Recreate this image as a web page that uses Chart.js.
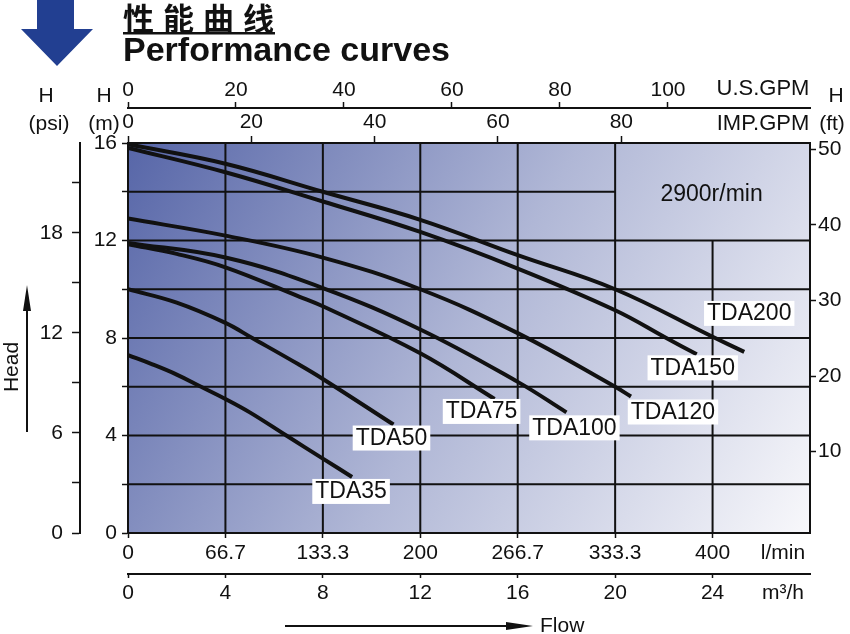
<!DOCTYPE html>
<html>
<head>
<meta charset="utf-8">
<script src="https://cdn.jsdelivr.net/npm/chart.js@4.4.1/dist/chart.umd.min.js"></script>
<style>
  html, body { margin: 0; padding: 0; background: #fff; }
  #wrap { width: 850px; height: 634px; }
</style>
</head>
<body>
<div id="wrap"><canvas id="curves"></canvas></div>
<script>
// pump models, flow in m3/h and head in m
const pumps = ['TDA35', 'TDA50', 'TDA75', 'TDA100', 'TDA120', 'TDA150', 'TDA200'];
const flow35  = [0, 1, 2, 3, 4, 5, 6.5, 8, 9.2];
const head35  = [7.3, 6.92, 6.5, 6.0, 5.5, 4.95, 4.0, 3.05, 2.3];
const flow50  = [0, 2, 4, 5.1, 7, 8, 10.9];
const head50  = [10.0, 9.45, 8.62, 8.0, 6.92, 6.32, 4.45];
const flow75  = [0, 2, 4, 7.05, 8, 12, 15.05];
const head75  = [11.85, 11.45, 10.9, 9.69, 9.3, 7.37, 5.5];
const flow100 = [0, 4, 8, 12, 16, 18];
const head100 = [11.9, 11.3, 10.05, 8.35, 6.2, 4.95];
const flow120 = [0, 4, 8, 12, 16, 20, 20.65];
const head120 = [12.9, 12.2, 11.3, 10.0, 8.2, 6.0, 5.6];
const flow150 = [0, 4, 8, 12, 16, 20, 22.1, 23.35];
const head150 = [15.8, 14.8, 13.6, 12.35, 10.85, 9.14, 8.0, 7.33];
const flow200 = [0, 4, 8, 12, 16, 20, 24, 25.3];
const head200 = [15.95, 15.15, 14.0, 12.85, 11.4, 10.0, 8.05, 7.43];
const flows = [flow35, flow50, flow75, flow100, flow120, flow150, flow200];
const heads = [head35, head50, head75, head100, head120, head150, head200];

// axis ticks
const flowTicks = [0, 4, 8, 12, 16, 20, 24];
const lminTicks = [0, 200 / 3, 400 / 3, 200, 800 / 3, 1000 / 3, 400];
const headTicks = [0, 2, 4, 6, 8, 10, 12, 14, 16];
const psiTicks = [0, 3, 6, 9, 12, 15, 18, 21];
const ftTicks = [10, 20, 30, 40, 50];
const usTicks = [0, 20, 40, 60, 80, 100];
const impTicks = [0, 20, 40, 60, 80];

// grid inside the plot
const gridFlow = [4, 8, 12, 16, 20];
const gridHead = [2, 4, 6, 8, 10, 12];
const gridFlowPart = [[24, 0, 12]];   // flow, from head, to head
const gridHeadPart = [[14, 0, 20]];   // head, from flow, to flow

const speedNote = '2900r/min';

const FONT = '"Liberation Sans", Arial, sans-serif';
Chart.defaults.font.family = FONT;

// where each model's name box sits, from the end of its curve (px)
const labelShift = [[-1, 14], [-2, 13], [-13, 12], [8, 15], [42, 15], [-4, 13], [5, -39]];

function mkAxis(position, min, max, values, label, tickLength, padding, size, weight) {
  const horizontal = position === 'top' || position === 'bottom';
  return {
    type: 'linear', position, min, max, weight,
    afterBuildTicks: s => { s.ticks = values.map(v => ({ value: v })); },
    afterFit: s => { if (horizontal) s.height = size; else s.width = size; },
    grid: { drawOnChartArea: false, drawTicks: true, tickLength, tickColor: '#111', tickWidth: 1.5 },
    border: { display: true, color: '#111', width: 2 },
    ticks: { color: '#111', font: { size: 21 }, padding, autoSkip: false, maxRotation: 0, callback: label }
  };
}

function text(ctx, s, x, y, size, align, weight) {
  ctx.font = (weight || '') + ' ' + size + 'px ' + FONT;
  ctx.textAlign = align || 'center';
  ctx.textBaseline = 'middle';
  ctx.fillText(s, x, y);
}

const sheet = {
  id: 'sheet',
  beforeDraw(chart) {
    const { ctx, chartArea: a } = chart;
    ctx.save();
    ctx.fillStyle = '#fff';
    ctx.fillRect(0, 0, chart.width, chart.height);
    const g = ctx.createLinearGradient(a.left, a.top, a.right, a.bottom);
    g.addColorStop(0, '#5766a8');
    g.addColorStop(0.5, '#b0b7d6');
    g.addColorStop(1, '#f8f8fb');
    ctx.fillStyle = g;
    ctx.fillRect(a.left, a.top, a.width, a.height);
    ctx.restore();
  },
  beforeDatasetsDraw(chart) {
    const { ctx, chartArea: a } = chart;
    const sx = chart.scales.x, sy = chart.scales.y;
    ctx.save();
    ctx.strokeStyle = '#111';
    ctx.lineWidth = 2;
    ctx.beginPath();
    gridFlow.forEach(v => { const px = sx.getPixelForValue(v); ctx.moveTo(px, a.top); ctx.lineTo(px, a.bottom); });
    gridHead.forEach(v => { const py = sy.getPixelForValue(v); ctx.moveTo(a.left, py); ctx.lineTo(a.right, py); });
    gridFlowPart.forEach(([v, h0, h1]) => {
      const px = sx.getPixelForValue(v);
      ctx.moveTo(px, sy.getPixelForValue(h0)); ctx.lineTo(px, sy.getPixelForValue(h1));
    });
    gridHeadPart.forEach(([v, f0, f1]) => {
      const py = sy.getPixelForValue(v);
      ctx.moveTo(sx.getPixelForValue(f0), py); ctx.lineTo(sx.getPixelForValue(f1), py);
    });
    ctx.stroke();
    ctx.fillStyle = '#111';
    text(ctx, speedNote, sx.getPixelForValue(24) - 1, sy.getPixelForValue(14) + 3, 23);
    ctx.restore();
  },
  afterDatasetsDraw(chart) {
    const ctx = chart.ctx;
    ctx.save();
    ctx.font = '23px ' + FONT;
    chart.data.datasets.forEach((ds, i) => {
      const pts = chart.getDatasetMeta(i).data;
      const end = pts[pts.length - 1];
      const cx = end.x + labelShift[i][0], cy = end.y + labelShift[i][1];
      const w = ctx.measureText(ds.label).width + 6;
      ctx.fillStyle = '#fff';
      ctx.fillRect(cx - w / 2, cy - 12, w, 25);
      ctx.fillStyle = '#111';
      text(ctx, ds.label, cx, cy + 1, 23);
    });
    ctx.restore();
  },
  afterDraw(chart) {
    const ctx = chart.ctx;
    ctx.save();
    // blue arrow beside the title
    ctx.fillStyle = '#223f91';
    ctx.beginPath();
    ctx.moveTo(37, 0); ctx.lineTo(74, 0); ctx.lineTo(74, 29); ctx.lineTo(93, 29);
    ctx.lineTo(57, 66); ctx.lineTo(21, 29); ctx.lineTo(37, 29); ctx.closePath();
    ctx.fill();

    ctx.fillStyle = '#111';
    ctx.font = 'bold 31px "Noto Sans CJK SC", sans-serif';
    ctx.textAlign = 'left'; ctx.textBaseline = 'middle';
    ctx.letterSpacing = '9px';
    ctx.fillText('性能曲线', 123, 18);
    ctx.letterSpacing = '0px';
    ctx.fillRect(123, 32, 152, 2.5);
    ctx.font = 'bold 34px ' + FONT;
    ctx.textBaseline = 'alphabetic';
    ctx.fillText('Performance curves', 123, 61);

    // axis headings and units
    text(ctx, 'H', 46, 96, 21);
    text(ctx, '(psi)', 49, 124, 21);
    text(ctx, 'H', 104, 96, 21);
    text(ctx, '(m)', 104, 124, 21);
    text(ctx, 'H', 836, 96, 21);
    text(ctx, '(ft)', 832, 124, 21);
    text(ctx, 'U.S.GPM', 763, 89, 22);
    text(ctx, 'IMP.GPM', 763, 124, 22);
    text(ctx, 'l/min', 783, 553, 21);
    text(ctx, 'm³/h', 783, 593, 21);

    // Head arrow
    ctx.save();
    ctx.translate(12, 367);
    ctx.rotate(-Math.PI / 2);
    text(ctx, 'Head', 0, 0, 21);
    ctx.restore();
    ctx.strokeStyle = '#111'; ctx.lineWidth = 2;
    ctx.beginPath(); ctx.moveTo(27, 432); ctx.lineTo(27, 305); ctx.stroke();
    ctx.beginPath(); ctx.moveTo(27, 285); ctx.lineTo(31, 311); ctx.lineTo(23, 311); ctx.closePath(); ctx.fill();

    // Flow arrow
    ctx.beginPath(); ctx.moveTo(285, 626); ctx.lineTo(510, 626); ctx.stroke();
    ctx.beginPath(); ctx.moveTo(533, 626); ctx.lineTo(506, 622); ctx.lineTo(506, 630); ctx.closePath(); ctx.fill();
    text(ctx, 'Flow', 540, 626, 21, 'left');
    ctx.restore();
  }
};

const round1 = v => String(Math.round(v * 10) / 10);

new Chart(document.getElementById('curves'), {
  type: 'line',
  data: {
    datasets: pumps.map((name, i) => ({
      label: name,
      data: flows[i].map((x, k) => ({ x, y: heads[i][k] })),
      borderColor: '#111',
      borderWidth: 4,
      pointRadius: 0,
      fill: false,
      tension: 0.4,
      xAxisID: 'x',
      yAxisID: 'y'
    }))
  },
  options: {
    responsive: true,
    maintainAspectRatio: false,
    animation: false,
    layout: { padding: { left: 10, right: 4, top: 70, bottom: 0 } },
    plugins: { legend: { display: false }, tooltip: { enabled: false } },
    scales: {
      x: mkAxis('bottom', 0, 28, flowTicks, v => round1(v), 4, 3, 60, 10),
      lmin: mkAxis('bottom', 0, 28 * 1000 / 60, lminTicks, v => round1(v), 5, 3, 41, 0),
      y: mkAxis('left', 0, 16, headTicks, v => (v % 4 === 0 ? String(v) : ''), 6, 5, 48, 0),
      psi: mkAxis('left', 0, 23.38, psiTicks, v => (v % 6 === 0 ? String(v) : ''), 8, 9, 70, 10),
      ft: mkAxis('right', -0.76, 50.83, ftTicks, v => String(v), 6, 2, 36, 0),
      imp: mkAxis('top', 0, 110.6, impTicks, v => String(v), 7, 1, 35, 0),
      us: mkAxis('top', 0, 126.3, usTicks, v => String(v), 6, -1, 38, 10)
    }
  },
  plugins: [sheet]
});
</script>
</body>
</html>
